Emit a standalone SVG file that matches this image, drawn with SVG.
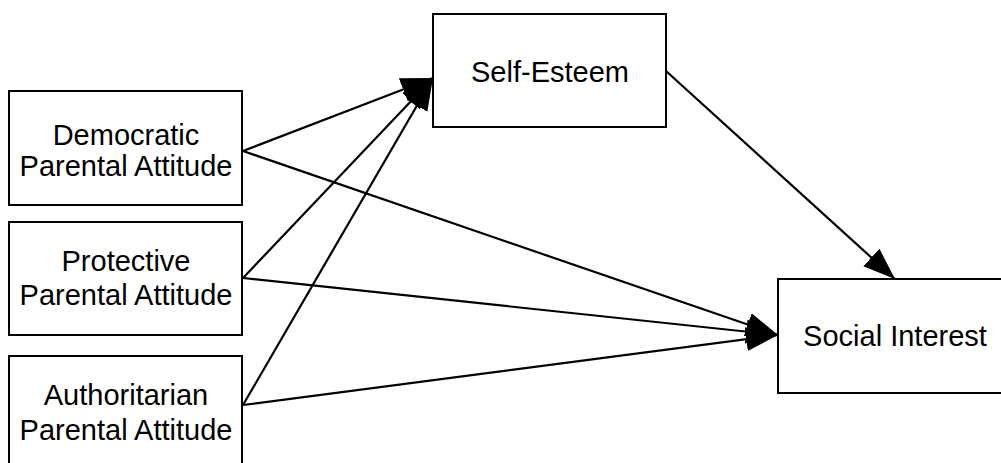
<svg xmlns="http://www.w3.org/2000/svg" width="1001" height="463" viewBox="0 0 1001 463">
<style>
.box{fill:#fff;stroke:#000;stroke-width:2}
.t{font-family:"Liberation Sans",Arial,sans-serif;font-size:29px;fill:#000;text-anchor:middle}
.e{stroke:#000;stroke-width:2.2;fill:none;marker-end:url(#ah)}
</style>
<defs>
<marker id="ah" markerUnits="userSpaceOnUse" markerWidth="34" markerHeight="26" refX="32" refY="12" orient="auto">
<path d="M0,0 L32,12 L0,24 z" fill="#000"/>
</marker>
</defs>
<rect width="1001" height="463" fill="#fff"/>
<g id="connectors">
<line class="e" x1="243" y1="151" x2="433" y2="78"/>
<line class="e" x1="243" y1="278" x2="433" y2="78"/>
<line class="e" x1="243" y1="405" x2="433" y2="78"/>
<line class="e" x1="243" y1="151" x2="778" y2="335"/>
<line class="e" x1="243" y1="278" x2="778" y2="335"/>
<line class="e" x1="243" y1="405" x2="778" y2="335"/>
<line class="e" x1="666" y1="71" x2="895" y2="279"/>
</g>
<g id="democratic">
<rect class="box" x="9" y="91" width="233" height="114"/>
<text class="t" x="126" y="145">Democratic</text>
<text class="t" x="126" y="176">Parental Attitude</text>
</g>
<g id="protective">
<rect class="box" x="9" y="222" width="233" height="113"/>
<text class="t" x="126" y="271">Protective</text>
<text class="t" x="126" y="305">Parental Attitude</text>
</g>
<g id="authoritarian">
<rect class="box" x="9" y="356" width="233" height="120"/>
<text class="t" x="126" y="405">Authoritarian</text>
<text class="t" x="126" y="440">Parental Attitude</text>
</g>
<g id="self-esteem">
<rect class="box" x="433" y="14" width="233" height="113"/>
<text class="t" x="550" y="82">Self-Esteem</text>
</g>
<g id="social-interest">
<rect class="box" x="778" y="279" width="234" height="114"/>
<text class="t" x="895" y="346">Social Interest</text>
</g>
</svg>
